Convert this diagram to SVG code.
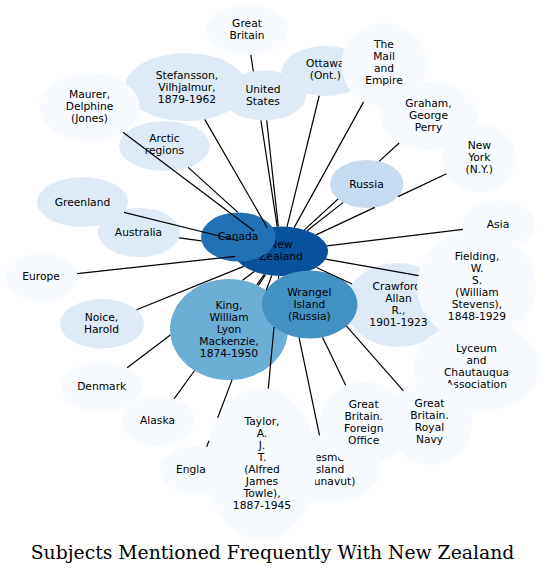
<svg xmlns="http://www.w3.org/2000/svg" width="546" height="575" viewBox="0 0 546 575">
<style>
.nd text{font-family:"DejaVu Sans","Noto Sans",sans-serif;font-size:10.7px;text-anchor:middle;fill:#000}
.c0{fill:#f7fbff}.c1{fill:#deebf7}.c2{fill:#c6dbef}.c3{fill:#6baed6}.c4{fill:#4292c6}.c5{fill:#2171b5}.c6{fill:#08519c}
#edges path{stroke:#000;stroke-width:1.2;fill:none}
.title{font-family:"DejaVu Serif",serif;font-size:18.8px;text-anchor:middle;fill:#000}
</style>
<rect width="546" height="575" fill="#fff"/>
<g class="nd">
<g id="great-britain"><ellipse class="c0" cx="247" cy="30" rx="41" ry="25"/><text x="247" y="26.5">Great</text><text x="247" y="38.5">Britain</text></g>
<g id="stefansson"><ellipse class="c1" cx="186" cy="87" rx="61" ry="34"/><text x="187" y="78.5">Stefansson,</text><text x="187" y="90.5">Vilhjalmur,</text><text x="187" y="102.5">1879-1962</text></g>
<g id="united-states"><ellipse class="c1" cx="264" cy="95.5" rx="42" ry="25"/><text x="263" y="93">United</text><text x="263" y="105">States</text></g>
<g id="maurer"><ellipse class="c0" cx="89.5" cy="107" rx="50" ry="34"/><text x="89.5" y="98">Maurer,</text><text x="89.5" y="110">Delphine</text><text x="89.5" y="122">(Jones)</text></g>
<g id="arctic"><ellipse class="c1" cx="164.5" cy="146" rx="45.5" ry="25"/><text x="164.5" y="142">Arctic</text><text x="164.5" y="154">regions</text></g>
<g id="greenland"><ellipse class="c1" cx="82.5" cy="202" rx="45.5" ry="25"/><text x="82.5" y="205.5">Greenland</text></g>
<g id="australia"><ellipse class="c1" cx="139" cy="232.5" rx="41" ry="24.5"/><text x="138.5" y="236">Australia</text></g>
<g id="new-zealand"><ellipse class="c6" cx="281" cy="251.3" rx="47" ry="24.7"/><text x="281" y="248.3">New</text><text x="281" y="260.3">Zealand</text></g>
<g id="canada"><ellipse class="c5" cx="238.3" cy="237" rx="37.3" ry="24.5"/><text x="238" y="240">Canada</text></g>
<g id="europe"><ellipse class="c0" cx="41.3" cy="277.5" rx="36.3" ry="24.2"/><text x="41" y="280">Europe</text></g>
<g id="noice"><ellipse class="c1" cx="102" cy="323.7" rx="42" ry="24.7"/><text x="101.5" y="320.5">Noice,</text><text x="101.5" y="332.5">Harold</text></g>
<g id="denmark"><ellipse class="c0" cx="101.7" cy="387" rx="40.7" ry="24.7"/><text x="101.7" y="389.5">Denmark</text></g>
<g id="alaska"><ellipse class="c0" cx="158" cy="421" rx="36.3" ry="25"/><text x="157.5" y="423.5">Alaska</text></g>
<g id="england"><ellipse class="c0" cx="197.6" cy="470.5" rx="37.6" ry="24.5"/><text x="197.6" y="473">England</text></g>
<g id="ellesmere"><ellipse class="c0" cx="326.6" cy="469" rx="53.4" ry="34"/><text x="328.5" y="460.5">Ellesmere</text><text x="328.5" y="472.5">Island</text><text x="328.5" y="484.5">(Nunavut)</text></g>
<g id="king"><ellipse class="c3" cx="229" cy="329.5" rx="59" ry="50.5"/><text x="229" y="308.5">King,</text><text x="229" y="320.5">William</text><text x="229" y="332.5">Lyon</text><text x="229" y="344.5">Mackenzie,</text><text x="229" y="356.5">1874-1950</text></g>
<g id="taylor"><ellipse class="c0" cx="261.3" cy="464" rx="55.5" ry="76"/><text x="262" y="424.5">Taylor,</text><text x="262" y="436.5">A.</text><text x="262" y="448.5">J.</text><text x="262" y="460.5">T.</text><text x="262" y="472.5">(Alfred</text><text x="262" y="484.5">James</text><text x="262" y="496.5">Towle),</text><text x="262" y="508.5">1887-1945</text></g>
<g id="foreign-office"><ellipse class="c0" cx="364" cy="423.3" rx="44.7" ry="41.6"/><text x="363.7" y="408.3">Great</text><text x="363.7" y="420.3">Britain.</text><text x="363.7" y="432.3">Foreign</text><text x="363.7" y="444.3">Office</text></g>
<g id="crawford"><ellipse class="c1" cx="398" cy="305" rx="53" ry="42"/><text x="398.5" y="290">Crawford,</text><text x="398.5" y="302">Allan</text><text x="398.5" y="314">R.,</text><text x="398.5" y="326">1901-1923</text></g>
<g id="wrangel"><ellipse class="c4" cx="309.7" cy="304.5" rx="47.7" ry="34"/><text x="309.3" y="296">Wrangel</text><text x="309.3" y="308">Island</text><text x="309.3" y="320">(Russia)</text></g>
<g id="fielding"><ellipse class="c0" cx="476.5" cy="286" rx="59.5" ry="56"/><text x="477" y="259.5">Fielding,</text><text x="477" y="271.5">W.</text><text x="477" y="283.5">S.</text><text x="477" y="295.5">(William</text><text x="477" y="307.5">Stevens),</text><text x="477" y="319.5">1848-1929</text></g>
<g id="asia"><ellipse class="c0" cx="498.7" cy="224.5" rx="36.3" ry="24"/><text x="498" y="227.5">Asia</text></g>
<g id="lyceum"><ellipse class="c0" cx="476.7" cy="366.7" rx="63.3" ry="45"/><text x="476.5" y="352">Lyceum</text><text x="476.5" y="364">and</text><text x="476.5" y="376">Chautauqua</text><text x="476.5" y="388">Association</text></g>
<g id="royal-navy"><ellipse class="c0" cx="430.8" cy="422" rx="41.5" ry="43"/><text x="429.5" y="406.7">Great</text><text x="429.5" y="418.7">Britain.</text><text x="429.5" y="430.7">Royal</text><text x="429.5" y="442.7">Navy</text></g>
<g id="russia"><ellipse class="c2" cx="366.7" cy="184" rx="36.7" ry="24"/><text x="366.5" y="187.5">Russia</text></g>
<g id="ottawa"><ellipse class="c1" cx="325.3" cy="71" rx="43.5" ry="25"/><text x="325.3" y="67">Ottawa</text><text x="325.3" y="79">(Ont.)</text></g>
<g id="mail-and-empire"><ellipse class="c0" cx="384" cy="65" rx="42.5" ry="42"/><text x="384" y="48.3">The</text><text x="384" y="60.3">Mail</text><text x="384" y="72.3">and</text><text x="384" y="84.3">Empire</text></g>
<g id="graham"><ellipse class="c0" cx="428.7" cy="116" rx="48.7" ry="34"/><text x="428.5" y="107.3">Graham,</text><text x="428.5" y="119.3">George</text><text x="428.5" y="131.3">Perry</text></g>
<g id="new-york"><ellipse class="c0" cx="479.3" cy="158.5" rx="36.7" ry="34"/><text x="479.3" y="149.3">New</text><text x="479.3" y="161.3">York</text><text x="479.3" y="173.3">(N.Y.)</text></g>
</g>
<g id="edges">
<path d="M250.8,54.9L253.35,71.3M260.9,120.4L277.2,226.7"/>
<path d="M266.7,120.4L278.3,226.6"/>
<path d="M204.7,119.4L267.3,227.7"/>
<path d="M123,132.2L254.1,231"/>
<path d="M188.1,167.4L237.9,212.4"/>
<path d="M124,212.3L238.5,240.75"/>
<path d="M179,237.8L201.5,240.8"/>
<path d="M77.1,273.6L235,256.3"/>
<path d="M136.6,309.7L243.75,266.4"/>
<path d="M127.2,367.7L170.35,335M242.6,280.35L254.2,271.6"/>
<path d="M174.2,398.6L194.6,370.5M256.7,284.9L264.3,274.4"/>
<path d="M206.65,446.7L209,440.6M217.7,417.7L232.06,379.9M266.2,290.3L271.8,275.5"/>
<path d="M268.3,388.6L274,327M278.7,276L278.45,278.8"/>
<path d="M265.5,274.6L258.2,285.6"/>
<path d="M299.1,337.6L319.5,435.3"/>
<path d="M322.5,337.25L345.7,385.35"/>
<path d="M346.3,325.8L403.4,390.8"/>
<path d="M316.4,267.55L352.1,283.95"/>
<path d="M325.6,259.2L418.6,275.7"/>
<path d="M326.8,245.8L463,229.3"/>
<path d="M316.1,234.9L374.8,207.4M398,196.6L446.5,173.8"/>
<path d="M307.1,230.8L343.2,202.4"/>
<path d="M304.4,229.9L338.1,199M379.1,161.4L399.2,143"/>
<path d="M294.1,227.6L363.6,101.85"/>
<path d="M287,226.8L319.2,95.75"/>
</g>
<text class="title" x="272.5" y="559">Subjects Mentioned Frequently With New Zealand</text>
</svg>
